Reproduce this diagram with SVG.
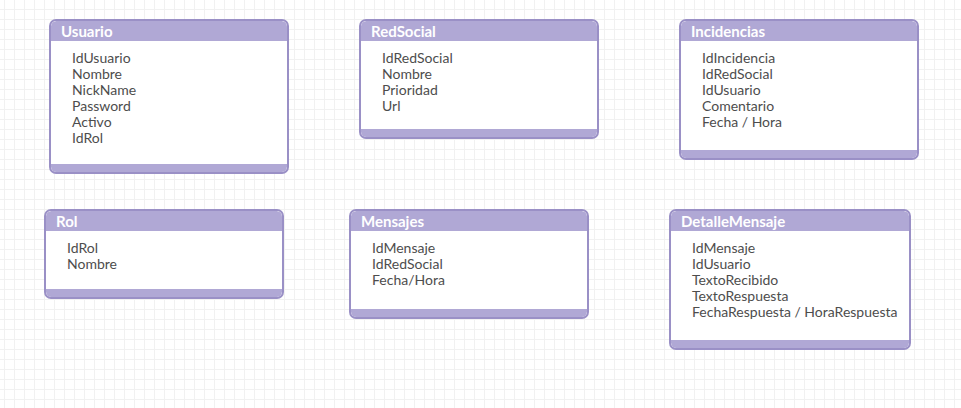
<svg xmlns="http://www.w3.org/2000/svg" width="961" height="408" viewBox="0 0 961 408">
<defs>
<pattern id="grid" x="4" y="9" width="10" height="10" patternUnits="userSpaceOnUse">
<path d="M0 0.5H10M0.5 0V10" fill="none" stroke="#f1f1f1" stroke-width="1"/>
</pattern>
<style>
.box{fill:#ffffff;stroke:#9a90c6;stroke-width:2}
.band{fill:#b0a8d5}
.title{font-family:Lato,"Liberation Sans",sans-serif;font-size:15px;font-weight:bold;fill:#ffffff}
.field{font-family:Lato,"Liberation Sans",sans-serif;font-size:14px;fill:#4d4d4d}
</style>
</defs>
<rect width="961" height="408" fill="#ffffff"/>
<rect width="961" height="408" fill="url(#grid)"/>
<g id="connectors"></g>

<g id="Usuario">
<rect class="box" x="50" y="20" width="238" height="153" rx="6"/>
<path class="band" d="M51 41V26.5a5.5 5.5 0 0 1 5.5-5.5H281.5a5.5 5.5 0 0 1 5.5 5.5V41Z"/>
<path class="band" d="M51 164H287V166.5a5.5 5.5 0 0 1-5.5 5.5H56.5a5.5 5.5 0 0 1-5.5-5.5Z"/>
<text class="title" x="61" y="37">Usuario</text>
<text class="field" x="72" y="63">IdUsuario</text>
<text class="field" x="72" y="79">Nombre</text>
<text class="field" x="72" y="95">NickName</text>
<text class="field" x="72" y="111">Password</text>
<text class="field" x="72" y="127">Activo</text>
<text class="field" x="72" y="143">IdRol</text>
</g>

<g id="RedSocial">
<rect class="box" x="360" y="20" width="238" height="118" rx="6"/>
<path class="band" d="M361 41V26.5a5.5 5.5 0 0 1 5.5-5.5H591.5a5.5 5.5 0 0 1 5.5 5.5V41Z"/>
<path class="band" d="M361 129H597V131.5a5.5 5.5 0 0 1-5.5 5.5H366.5a5.5 5.5 0 0 1-5.5-5.5Z"/>
<text class="title" x="371" y="37">RedSocial</text>
<text class="field" x="382" y="63">IdRedSocial</text>
<text class="field" x="382" y="79">Nombre</text>
<text class="field" x="382" y="95">Prioridad</text>
<text class="field" x="382" y="111">Url</text>
</g>

<g id="Incidencias">
<rect class="box" x="680" y="20" width="238" height="139" rx="6"/>
<path class="band" d="M681 41V26.5a5.5 5.5 0 0 1 5.5-5.5H911.5a5.5 5.5 0 0 1 5.5 5.5V41Z"/>
<path class="band" d="M681 150H917V152.5a5.5 5.5 0 0 1-5.5 5.5H686.5a5.5 5.5 0 0 1-5.5-5.5Z"/>
<text class="title" x="691" y="37">Incidencias</text>
<text class="field" x="702" y="63">IdIncidencia</text>
<text class="field" x="702" y="79">IdRedSocial</text>
<text class="field" x="702" y="95">IdUsuario</text>
<text class="field" x="702" y="111">Comentario</text>
<text class="field" x="702" y="127">Fecha / Hora</text>
</g>

<g id="Rol">
<rect class="box" x="45" y="210" width="238" height="88" rx="6"/>
<path class="band" d="M46 231V216.5a5.5 5.5 0 0 1 5.5-5.5H276.5a5.5 5.5 0 0 1 5.5 5.5V231Z"/>
<path class="band" d="M46 289H282V291.5a5.5 5.5 0 0 1-5.5 5.5H51.5a5.5 5.5 0 0 1-5.5-5.5Z"/>
<text class="title" x="56" y="227">Rol</text>
<text class="field" x="67" y="253">IdRol</text>
<text class="field" x="67" y="269">Nombre</text>
</g>

<g id="Mensajes">
<rect class="box" x="350" y="210" width="238" height="108" rx="6"/>
<path class="band" d="M351 231V216.5a5.5 5.5 0 0 1 5.5-5.5H581.5a5.5 5.5 0 0 1 5.5 5.5V231Z"/>
<path class="band" d="M351 309H587V311.5a5.5 5.5 0 0 1-5.5 5.5H356.5a5.5 5.5 0 0 1-5.5-5.5Z"/>
<text class="title" x="361" y="227">Mensajes</text>
<text class="field" x="372" y="253">IdMensaje</text>
<text class="field" x="372" y="269">IdRedSocial</text>
<text class="field" x="372" y="285">Fecha/Hora</text>
</g>

<g id="DetalleMensaje">
<rect class="box" x="670" y="210" width="240" height="139" rx="6"/>
<path class="band" d="M671 231V216.5a5.5 5.5 0 0 1 5.5-5.5H903.5a5.5 5.5 0 0 1 5.5 5.5V231Z"/>
<path class="band" d="M671 340H909V342.5a5.5 5.5 0 0 1-5.5 5.5H676.5a5.5 5.5 0 0 1-5.5-5.5Z"/>
<text class="title" x="681" y="227">DetalleMensaje</text>
<text class="field" x="692" y="253">IdMensaje</text>
<text class="field" x="692" y="269">IdUsuario</text>
<text class="field" x="692" y="285">TextoRecibido</text>
<text class="field" x="692" y="301">TextoRespuesta</text>
<text class="field" x="692" y="317">FechaRespuesta / HoraRespuesta</text>
</g>
</svg>
